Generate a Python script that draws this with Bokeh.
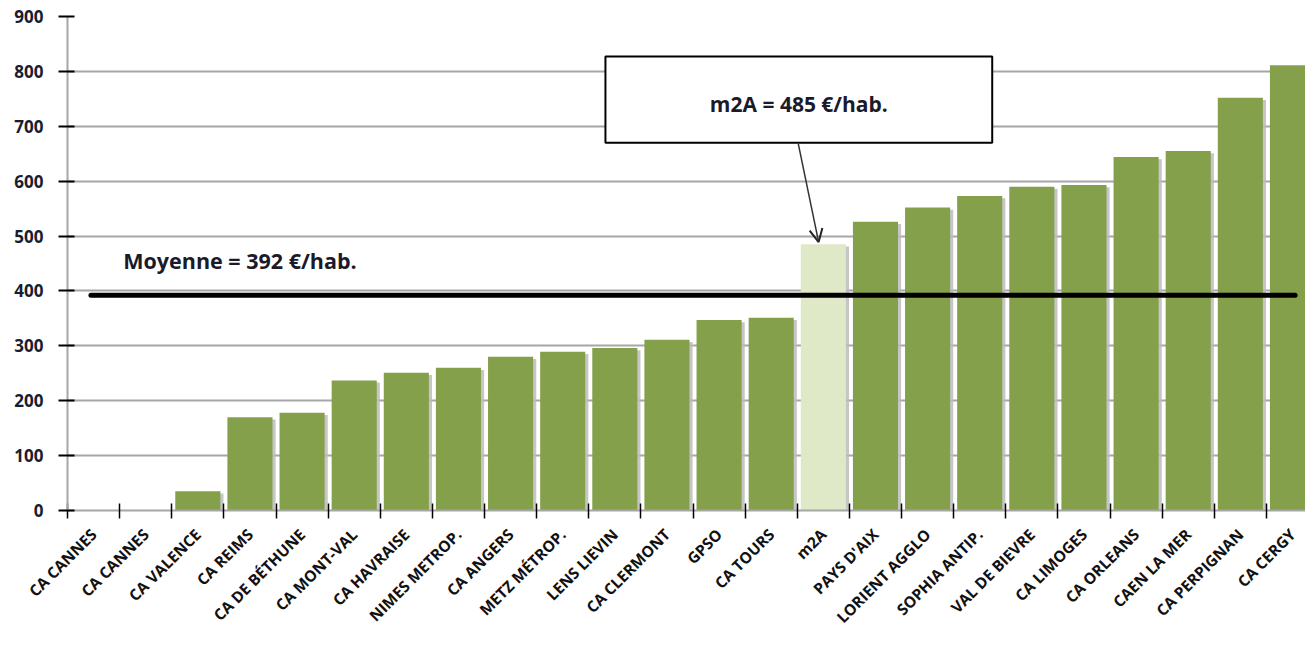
import math
from bokeh.plotting import figure
from bokeh.models import (ColumnDataSource, Range1d, FixedTicker, BoxAnnotation,
                          Label, Arrow, OpenHead)
from bokeh.transform import dodge
from bokeh.embed import file_html
from bokeh.resources import INLINE

# ---------------- data ----------------
categories = ["CA CANNES", "CA CANNES", "CA VALENCE", "CA REIMS", "CA DE BÉTHUNE",
              "CA MONT-VAL", "CA HAVRAISE", "NIMES METROP.", "CA ANGERS",
              "METZ MÉTROP.", "LENS LIEVIN", "CA CLERMONT", "GPSO", "CA TOURS",
              "m2A", "PAYS D'AIX", "LORIENT AGGLO", "SOPHIA ANTIP.", "VAL DE BIEVRE",
              "CA LIMOGES", "CA ORLEANS", "CAEN LA MER", "CA PERPIGNAN", "CA CERGY"]
values = [0, 0, 35, 170, 178, 237, 251, 260, 280, 289, 296, 311, 347, 351,
          485, 526, 552, 573, 590, 593, 644, 655, 752, 811]
y_ticks = [0, 100, 200, 300, 400, 500, 600, 700, 800, 900]
mean_value = 392
highlight = "m2A"

# ---------------- styles ----------------
GREEN = "#84a04b"
LIGHT = "#dfe8c7"
FONT = "Open Sans"

n = len(categories)
centers = [i + 0.5 for i in range(n)]
colors = [LIGHT if c == highlight else GREEN for c in categories]
hl_idx = categories.index(highlight)
hl_val = values[hl_idx]

src = ColumnDataSource(dict(x=centers, top=values, color=colors))

p = figure(width=1305, height=638, output_backend="svg", toolbar_location=None,
           x_range=Range1d(0, 23.75), y_range=Range1d(0, 900),
           min_border_left=67, min_border_right=0, min_border_top=16,
           min_border_bottom=128)
p.outline_line_color = None
p.background_fill_color = "white"
p.border_fill_color = "white"

# grid
p.xgrid.grid_line_color = None
p.ygrid.grid_line_color = "#a6a6a6"
p.ygrid.grid_line_width = 2

# bar shadows + bars
p.vbar(x=dodge("x", 0.06), top=dodge("top", -4), width=0.865, bottom=0,
       source=src, fill_color="#bcbcbc", line_color=None, fill_alpha=0.85)
p.vbar(x="x", top="top", width=0.865, bottom=0, source=src,
       fill_color="color", line_color=None)

# mean line
p.segment(x0=[0.45], x1=[23.55], y0=[mean_value], y1=[mean_value],
          line_color="black", line_width=5, line_cap="round")

p.add_layout(Label(x=1.07, y=456, x_units="data", y_units="data",
                   text=f"Moyenne = {mean_value} €/hab.", text_font=FONT,
                   text_font_style="bold", text_font_size="21.5px",
                   text_color="#1a1a2a", text_baseline="middle", text_align="left"))

# callout box + arrow
p.add_layout(BoxAnnotation(left=10.32, right=17.74, bottom=670, top=827,
                           fill_color="white", fill_alpha=1.0,
                           line_color="black", line_alpha=1.0, line_width=2))
p.add_layout(Label(x=14.03, y=741, text=f"{highlight} = {hl_val} €/hab.",
                   text_font=FONT, text_font_style="bold", text_font_size="21px",
                   text_color="#1a1a2a", text_align="center", text_baseline="middle"))
p.add_layout(Arrow(end=OpenHead(size=13, line_width=2, line_color="#222222"),
                   x_start=14.02, y_start=668, x_end=14.41, y_end=489,
                   line_color="#333333", line_width=1.5))

# crimson page-edge strip seen at the left of the picture
p.add_layout(BoxAnnotation(left=0, right=4, top=0, bottom=638,
                           left_units="canvas", right_units="canvas",
                           top_units="canvas", bottom_units="canvas",
                           fill_color="#b3125a", fill_alpha=1.0,
                           line_color=None))

# x axis: labels at centers, ticks at boundaries (minor)
xa = p.xaxis[0]
xa.ticker = FixedTicker(ticks=centers, minor_ticks=list(range(n + 1)))
xa.major_label_overrides = {c: name for c, name in zip(centers, categories)}
xa.major_tick_line_color = None
xa.minor_tick_line_color = "black"
xa.minor_tick_line_width = 1.5
xa.minor_tick_in = 7
xa.minor_tick_out = 8
xa.axis_line_color = "#a6a6a6"
xa.axis_line_width = 2
xa.major_label_orientation = math.pi / 4
xa.major_label_text_font = FONT
xa.major_label_text_font_style = "bold"
xa.major_label_text_font_size = "15.5px"
xa.major_label_text_color = "#111111"
xa.major_label_standoff = 13

# y axis
ya = p.yaxis[0]
ya.ticker = FixedTicker(ticks=y_ticks)
ya.minor_tick_line_color = None
ya.major_tick_line_color = "black"
ya.major_tick_line_width = 2
ya.major_tick_in = 7
ya.major_tick_out = 9
ya.axis_line_color = "#a6a6a6"
ya.axis_line_width = 2
ya.major_label_text_font = FONT
ya.major_label_text_font_style = "bold"
ya.major_label_text_font_size = "17px"
ya.major_label_text_color = "#1c1c30"
ya.major_label_standoff = 15

open("out.html", "w").write(file_html(p, INLINE))
